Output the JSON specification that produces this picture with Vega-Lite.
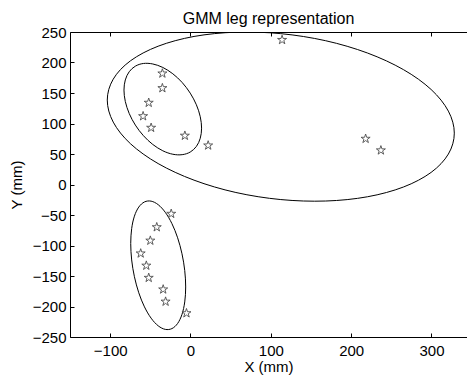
{
  "$schema": "https://vega.github.io/schema/vega-lite/v6.json",
  "width": 397,
  "height": 305,
  "autosize": {"type": "none"},
  "padding": {"left": 70, "top": 32, "right": 0, "bottom": 43},
  "background": "white",
  "title": {"text": "GMM leg representation", "font": "Liberation Sans", "fontSize": 16, "fontWeight": "normal", "color": "black", "offset": -2, "anchor": "middle"},
  "config": {
    "view": {"stroke": null},
    "axis": {"grid": false, "labelFont": "Liberation Sans", "labelFontSize": 15, "labelColor": "black", "titleFont": "Liberation Sans", "titleFontSize": 15, "titleFontWeight": "normal", "titleColor": "black", "domainColor": "black", "domainWidth": 1, "tickColor": "black", "tickSize": -4, "tickWidth": 1, "labelOverlap": false}
  },
  "datasets": {
    "ell": [
      {"e":"A","i":0,"x":328.4,"y":84.2},{"e":"A","i":1,"x":321.0,"y":120.3},{"e":"A","i":2,"x":299.5,"y":155.8},{"e":"A","i":3,"x":265.1,"y":188.3},{"e":"A","i":4,"x":220.4,"y":215.5},{"e":"A","i":5,"x":168.3,"y":235.7},{"e":"A","i":6,"x":112.4,"y":247.3},{"e":"A","i":7,"x":56.5,"y":249.7},{"e":"A","i":8,"x":4.4,"y":242.7},{"e":"A","i":9,"x":-40.3,"y":226.7},{"e":"A","i":10,"x":-74.7,"y":202.8},{"e":"A","i":11,"x":-96.2,"y":172.7},{"e":"A","i":12,"x":-103.6,"y":138.4},{"e":"A","i":13,"x":-96.2,"y":102.3},{"e":"A","i":14,"x":-74.7,"y":66.8},{"e":"A","i":15,"x":-40.3,"y":34.3},{"e":"A","i":16,"x":4.4,"y":7.1},{"e":"A","i":17,"x":56.5,"y":-13.1},{"e":"A","i":18,"x":112.4,"y":-24.7},{"e":"A","i":19,"x":168.3,"y":-27.1},{"e":"A","i":20,"x":220.4,"y":-20.1},{"e":"A","i":21,"x":265.1,"y":-4.1},{"e":"A","i":22,"x":299.5,"y":19.8},{"e":"A","i":23,"x":321.0,"y":49.9},
      {"e":"B","i":0,"x":13.8,"y":92.4},{"e":"B","i":1,"x":12.15,"y":111.1},{"e":"B","i":2,"x":7.33,"y":130.7},{"e":"B","i":3,"x":-0.35,"y":149.8},{"e":"B","i":4,"x":-10.35,"y":167.2},{"e":"B","i":5,"x":-22.0,"y":181.5},{"e":"B","i":6,"x":-34.5,"y":191.9},{"e":"B","i":7,"x":-47.0,"y":197.6},{"e":"B","i":8,"x":-58.65,"y":198.4},{"e":"B","i":9,"x":-68.65,"y":194.0},{"e":"B","i":10,"x":-76.33,"y":184.8},{"e":"B","i":11,"x":-81.15,"y":171.4},{"e":"B","i":12,"x":-82.8,"y":154.8},{"e":"B","i":13,"x":-81.15,"y":136.1},{"e":"B","i":14,"x":-76.33,"y":116.5},{"e":"B","i":15,"x":-68.65,"y":97.4},{"e":"B","i":16,"x":-58.65,"y":80.1},{"e":"B","i":17,"x":-47.0,"y":65.7},{"e":"B","i":18,"x":-34.5,"y":55.3},{"e":"B","i":19,"x":-22.0,"y":49.6},{"e":"B","i":20,"x":-10.35,"y":48.9},{"e":"B","i":21,"x":-0.35,"y":53.2},{"e":"B","i":22,"x":7.33,"y":62.4},{"e":"B","i":23,"x":12.15,"y":75.8},
      {"e":"C","i":0,"x":-6.0,"y":-168.0},{"e":"C","i":1,"x":-7.17,"y":-141.1},{"e":"C","i":2,"x":-10.58,"y":-113.6},{"e":"C","i":3,"x":-16.02,"y":-87.35},{"e":"C","i":4,"x":-23.1,"y":-64.2},{"e":"C","i":5,"x":-31.35,"y":-45.7},{"e":"C","i":6,"x":-40.2,"y":-33.1},{"e":"C","i":7,"x":-49.05,"y":-27.3},{"e":"C","i":8,"x":-57.3,"y":-28.6},{"e":"C","i":9,"x":-64.38,"y":-37.0},{"e":"C","i":10,"x":-69.82,"y":-51.9},{"e":"C","i":11,"x":-73.23,"y":-72.3},{"e":"C","i":12,"x":-74.4,"y":-96.8},{"e":"C","i":13,"x":-73.23,"y":-123.7},{"e":"C","i":14,"x":-69.82,"y":-151.2},{"e":"C","i":15,"x":-64.38,"y":-177.5},{"e":"C","i":16,"x":-57.3,"y":-200.6},{"e":"C","i":17,"x":-49.05,"y":-219.1},{"e":"C","i":18,"x":-40.2,"y":-231.7},{"e":"C","i":19,"x":-31.35,"y":-237.5},{"e":"C","i":20,"x":-23.1,"y":-236.2},{"e":"C","i":21,"x":-16.02,"y":-227.8},{"e":"C","i":22,"x":-10.58,"y":-212.9},{"e":"C","i":23,"x":-7.17,"y":-192.5}
    ],
    "stars": [
      {"x":-35,"y":182},{"x":-35,"y":158},{"x":-52,"y":134},{"x":-59,"y":112},{"x":-49,"y":93},{"x":-7,"y":80},{"x":22,"y":64},{"x":114,"y":237},{"x":218,"y":75},{"x":237,"y":56},
      {"x":-24,"y":-48},{"x":-42,"y":-70},{"x":-50,"y":-92},{"x":-62,"y":-113},{"x":-55,"y":-133},{"x":-52,"y":-153},{"x":-34,"y":-172},{"x":-31,"y":-192},{"x":-5,"y":-211}
    ]
  },
  "layer": [
    {
      "data": {"name": "ell"},
      "mark": {"type": "line", "interpolate": "cardinal-closed", "color": "black", "strokeWidth": 1, "clip": true},
      "encoding": {
        "x": {"field": "x", "type": "quantitative", "scale": {"domain": [-150, 344.2], "nice": false, "zero": false}, "axis": {"orient": "top", "labels": false, "title": null, "values": [-100, 0, 100, 200, 300]}},
        "y": {"field": "y", "type": "quantitative", "scale": {"domain": [-250, 250], "nice": false, "zero": false}, "axis": {"title": "Y (mm)", "values": [-250, -200, -150, -100, -50, 0, 50, 100, 150, 200, 250], "labelPadding": 8, "titlePadding": 8, "labelOverlap": false, "labelFlush": false}},
        "detail": {"field": "e"},
        "order": {"field": "i", "type": "quantitative"}
      }
    },
    {
      "data": {"name": "stars"},
      "mark": {"type": "point", "shape": "M0,-1L0.2245,-0.309L0.951,-0.309L0.363,0.118L0.588,0.809L0,0.382L-0.588,0.809L-0.363,0.118L-0.951,-0.309L-0.2245,-0.309Z", "size": 90, "filled": false, "stroke": "#4d4d4d", "strokeWidth": 0.9, "opacity": 1},
      "encoding": {
        "x": {"field": "x", "type": "quantitative", "scale": {"domain": [-150, 344.2], "nice": false, "zero": false}, "axis": {"orient": "bottom", "title": "X (mm)", "values": [-100, 0, 100, 200, 300], "labelPadding": 10, "titlePadding": 1, "labelOverlap": false}},
        "y": {"field": "y", "type": "quantitative", "scale": {"domain": [-250, 250], "nice": false, "zero": false}, "axis": {"title": "Y (mm)", "values": [-250, -200, -150, -100, -50, 0, 50, 100, 150, 200, 250], "labelPadding": 8, "titlePadding": 8, "labelOverlap": false, "labelFlush": false}}
      }
    }
  ],
  "resolve": {"axis": {"x": "independent"}}
}
